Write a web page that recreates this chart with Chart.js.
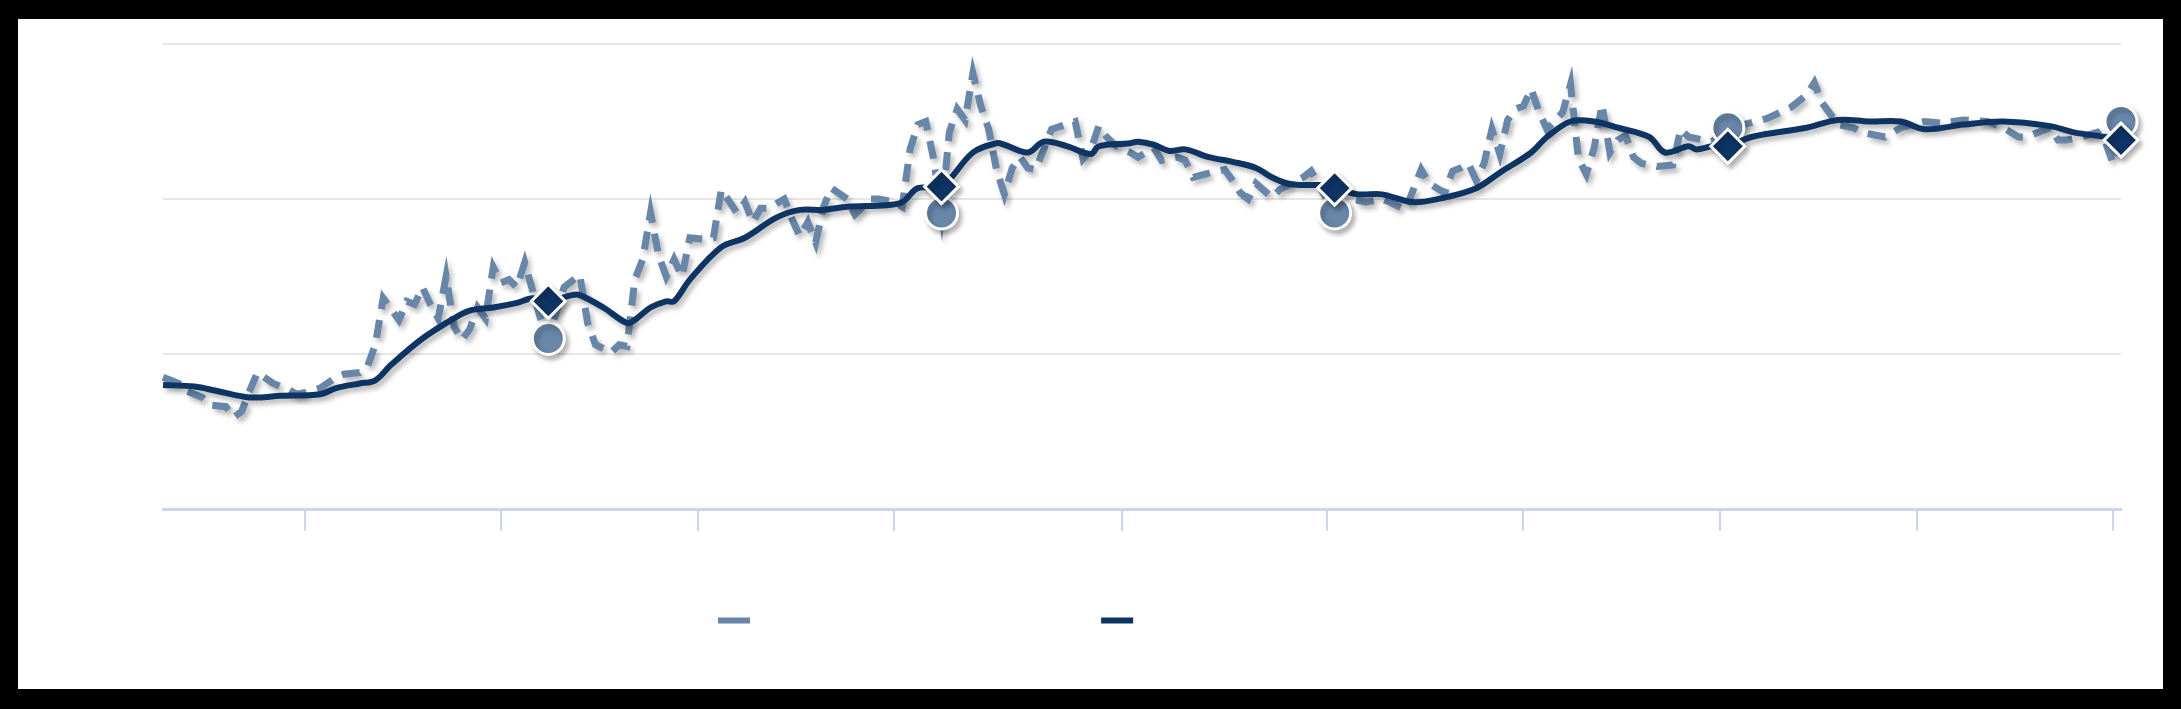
<!DOCTYPE html>
<html>
<head>
<meta charset="utf-8">
<script src="https://cdn.jsdelivr.net/npm/chart.js@4"></script>
<style>
  html, body { margin: 0; padding: 0; background: #000; }
  #card { position: absolute; left: 18px; top: 19px; width: 2145px; height: 670px; background: #fff; }
</style>
</head>
<body>
<div id="card"><canvas id="trendChart" width="2145" height="670"></canvas></div>
<script>
// raw (dashed) series: day index and value
const rawDays = [0,2,3,5,6,8,9,10,11,12,14,16,17,18,20,22,23,25,26,27,28,30,31,32,33,34,35,36,37,38,39,40,41,42,43,44,45,46,47,48,49,
  51,53,54,55,57,58,59,60,61,62,63,64,65,66,67,69,70,71,73,74,75,76,77,79,80,81,82,83,84,85,87,88,90,91,93,94,95,96,97,98,99,
  100,101,102,103,104,105,106,107,108,109,110,111,112,113,116,117,118,119,120,121,123,124,126,127,129,130,131,134,135,136,137,138,139,141,142,145,146,147,149,
  151,153,155,156,158,160,161,163,164,165,166,167,168,169,170,171,172,173,174,175,176,178,179,180,181,182,183,184,185,186,187,188,190,192,193,194,197,199,
  201,204,207,209,210,211,213,215,216,219,221,224,226,229,232,234,236,237,240,241,242,244,246,247,248,249];
const rawValues = [85,81,76,72,67,66,59,63,76,88,81,77,74,75,78,85,87,88,92,106,136,122,134,132,143,132,123,150,118,109,116,130,123,156,146,148,143,159,141,123,110,
  143,151,120,106,101,106,105,148,161,191,164,150,161,150,175,174,175,206,191,198,185,194,194,200,187,176,185,172,195,207,200,190,200,200,198,195,232,248,250,226,191,
  243,258,251,281,260,245,219,203,220,227,220,219,232,245,250,226,232,247,240,235,230,227,233,225,227,225,214,218,219,212,204,200,210,201,206,214,218,209,191,
  200,198,200,198,193,219,210,204,218,220,223,212,223,245,229,251,258,260,271,256,245,256,274,226,216,233,261,230,238,241,227,223,221,222,245,240,237,246,
  248,252,259,267,275,262,248,246,243,240,246,250,249,251,250,246,240,240,246,238,238,240,243,237,223,250];

// smoothed (solid) series
const trendDays = [0,4,7,11,15,20,22,25,27,29,33,37,39,42,45,47,49,52,53,56,59,60,62,64,65,67,71,74,78,81,84,87,92,94,96,99,
  103,106,107,110,112,115,118,119,123,124,126,128,130,133,136,139,141,143,145,147,149,152,155,159,163,167,170,174,176,179,182,185,189,191,194,195,197,199,
  202,209,213,217,221,224,229,234,240,243,247,249];
const trendValues = [80,79,76,72,73,74,78,81,83,93,110,123,128,130,133,136,134,138,138,130,120,122,130,134,134,148,169,175,188,193,193,195,196,198,207,208,
  230,236,235,230,237,234,229,234,236,237,235,231,232,227,224,220,214,210,209,209,207,203,203,198,201,207,217,230,240,250,250,246,240,230,234,232,234,234,
  240,246,251,250,250,245,248,250,247,243,240,238];

// days that carry a marker, and x-axis tick days
const markerDays = [49, 99, 149, 199, 249];
const xTickDays = [18, 43, 68, 93, 122, 148, 173, 198, 223, 248];
const yTicks = [0, 100, 200, 300];

const seriesNames = ['Observed daily values', 'Smoothed (moving average)'];

const lightBlue = '#6886a8';
const navy = '#0e3464';

const lineShadow = {
    id: 'lineShadow',
    beforeDatasetDraw(chart){
        const c = chart.ctx;
        c.save();
        c.shadowColor = 'rgba(0,0,0,0.28)';
        c.shadowBlur = 5;
        c.shadowOffsetX = 3;
        c.shadowOffsetY = 4;
    },
    afterDatasetDraw(chart){ chart.ctx.restore(); }
};

const isMarker = (ctx) => ctx.raw && markerDays.includes(ctx.raw.x);

new Chart(document.getElementById('trendChart'), {
    type: 'line',
    data: {
        datasets: [
            {
                label: seriesNames[0],
                data: rawDays.map((d, i) => ({ x: d, y: rawValues[i] })),
                borderColor: lightBlue,
                backgroundColor: lightBlue,
                borderWidth: 7,
                borderDash: [18, 11],
                tension: 0,
                pointStyle: 'circle',
                pointRadius: (ctx) => isMarker(ctx) ? 16 : 0,
                pointBackgroundColor: lightBlue,
                pointBorderColor: '#fff',
                pointBorderWidth: 3,
                order: 2,
                clip: false
            },
            {
                label: seriesNames[1],
                data: trendDays.map((d, i) => ({ x: d, y: trendValues[i] })),
                borderColor: navy,
                backgroundColor: navy,
                borderWidth: 6,
                tension: 0.35,
                pointStyle: 'rectRot',
                pointRadius: (ctx) => isMarker(ctx) ? 17 : 0,
                pointBackgroundColor: navy,
                pointBorderColor: '#fff',
                pointBorderWidth: 3,
                order: 1,
                clip: false
            }
        ]
    },
    options: {
        responsive: false,
        animation: false,
        devicePixelRatio: 1,
        layout: { padding: { left: 145, right: 42, top: 25, bottom: 42 } },
        scales: {
            x: {
                type: 'linear',
                min: 0,
                max: 249,
                afterBuildTicks: (scale) => { scale.ticks = xTickDays.map(v => ({ value: v })); },
                afterFit: (scale) => { scale.height = 85; },
                ticks: { display: false },
                grid: { drawOnChartArea: false, drawTicks: true, tickLength: 22, color: '#ccd6eb', lineWidth: 2 },
                border: { color: '#ccd6eb', width: 3 }
            },
            y: {
                min: 0,
                max: 300,
                afterBuildTicks: (scale) => { scale.ticks = yTicks.map(v => ({ value: v })); },
                afterFit: (scale) => { scale.width = 0; },
                ticks: { display: false },
                grid: { drawTicks: false, color: '#e6e6e6', lineWidth: 2 },
                border: { display: false }
            }
        },
        plugins: {
            tooltip: { enabled: false },
            legend: {
                position: 'bottom',
                labels: {
                    boxWidth: 32,
                    boxHeight: 6,
                    padding: 10,
                    color: '#ffffff',
                    font: { family: 'Liberation Sans', size: 33 },
                    sort: (a, b) => a.datasetIndex - b.datasetIndex,
                    generateLabels: (chart) => Chart.defaults.plugins.legend.labels.generateLabels(chart).map(item => {
                        item.fillStyle = item.strokeStyle;
                        item.lineWidth = 0;
                        item.lineDash = [];
                        return item;
                    })
                }
            }
        }
    },
    plugins: [lineShadow]
});
</script>
</body>
</html>
